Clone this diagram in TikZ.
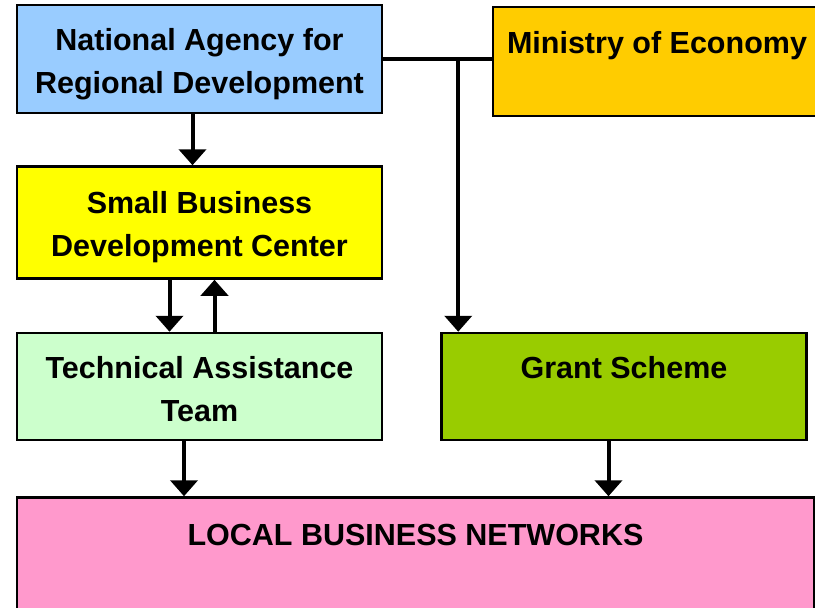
\documentclass[tikz,border=0pt]{standalone}
\usepackage{fontspec}
\setmainfont{Liberation Sans}
\usepackage{xcolor}
\definecolor{agencyblue}{RGB}{153,204,255}
\definecolor{centeryellow}{RGB}{255,255,0}
\definecolor{ministryorange}{RGB}{255,204,0}
\definecolor{teamgreen}{RGB}{204,255,204}
\definecolor{grantgreen}{RGB}{153,204,0}
\definecolor{networkpink}{RGB}{255,153,204}
\usetikzlibrary{positioning}
\usetikzlibrary{arrows.meta}
\newcommand{\boxstrut}{\rule[-5pt]{0pt}{37pt}}

\begin{document}
\begin{tikzpicture}[font=\bfseries\fontsize{30.5}{43}\selectfont,
      org style/.style={rectangle,draw=black,line width=2.5pt,minimum
        width=365pt,minimum height=108pt,inner sep=0pt,align=center},
      link style/.style={line width=4pt,-{Triangle[length=16pt,width=27pt]}}
      ]
      \useasboundingbox (0,0) rectangle (815pt,-608pt);

      \node[org style, fill=agencyblue] (nard) at (199.5pt,-59pt) {\boxstrut National Agency for\\\boxstrut Regional Development};
      \node[org style, fill=ministryorange, minimum width=328pt, minimum height=109pt] (ministry) at (657pt,-61.5pt) {\boxstrut Ministry of Economy\\\boxstrut};
      \node[org style, fill=centeryellow, minimum height=112pt, below=51pt of nard] (sbdc) {\boxstrut Small Business\\\boxstrut Development Center};
      \node[org style, fill=teamgreen, minimum height=107pt, below=52pt of sbdc] (tat) {\boxstrut Technical Assistance\\\boxstrut Team};
      \node[org style, fill=grantgreen, minimum height=107pt, right=57pt of tat] (grant) {\boxstrut Grant Scheme\\\boxstrut};
      \node[org style, fill=networkpink, minimum width=797pt, minimum height=112pt, anchor=north west] (lbn) at ([yshift=-55pt]tat.south west) {\boxstrut LOCAL BUSINESS NETWORKS\\\boxstrut};

      \coordinate (split) at ([xshift=75pt]nard.east);
      \draw[line width=4pt] (nard.east) -- (nard.east -| ministry.west);
      \draw[link style] (split) -- (split |- grant.north);

      \draw[link style] ([xshift=-7pt]nard.south) -- ([xshift=-7pt]nard.south |- sbdc.north);
      \draw[link style] ([xshift=-30pt]sbdc.south) -- ([xshift=-30pt]sbdc.south |- tat.north);
      \draw[link style] ([xshift=15pt]tat.north) -- ([xshift=15pt]tat.north |- sbdc.south);
      \draw[link style] ([xshift=-15.5pt]tat.south) -- ([xshift=-15.5pt]tat.south |- lbn.north);
      \draw[link style] ([xshift=-15.5pt]grant.south) -- ([xshift=-15.5pt]grant.south |- lbn.north);
    \end{tikzpicture}
\end{document}
